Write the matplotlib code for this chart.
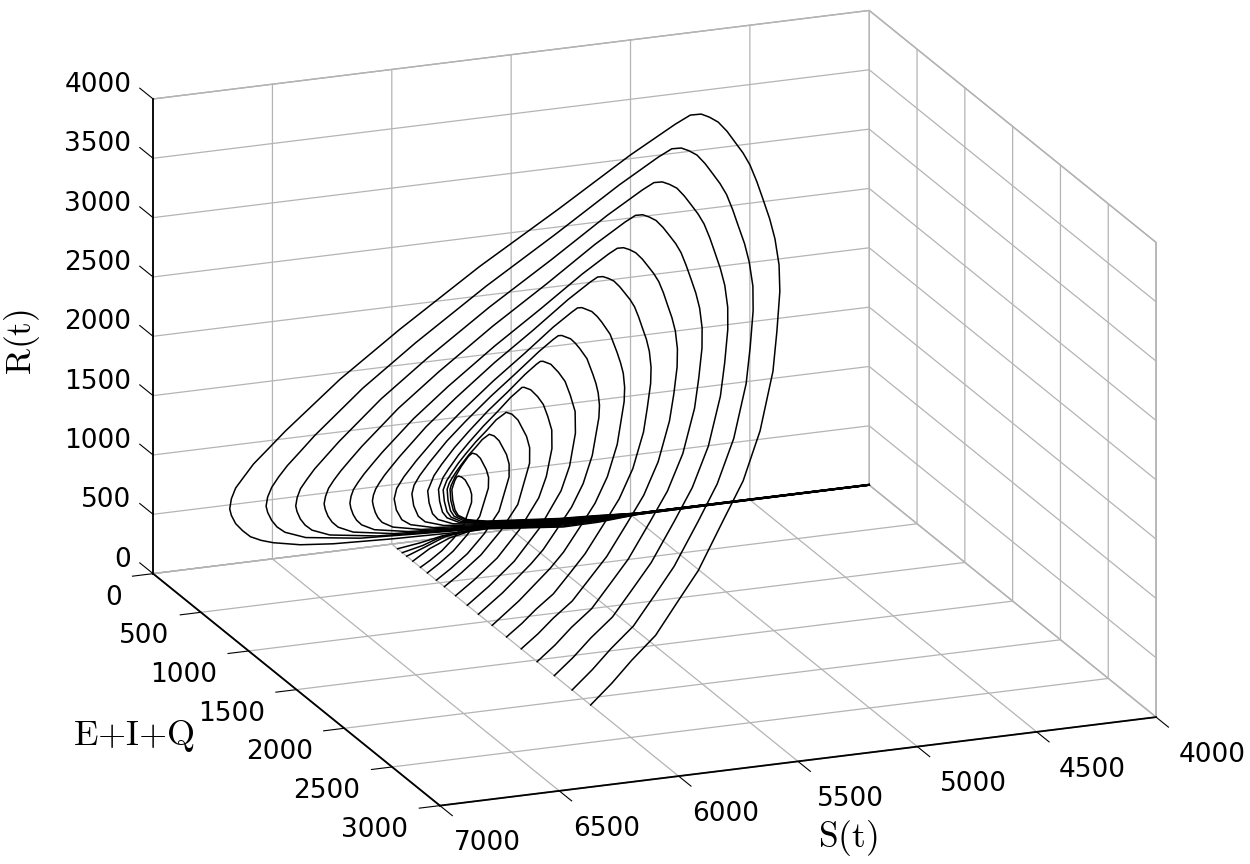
import matplotlib
matplotlib.use("Agg")
import matplotlib.pyplot as plt
from matplotlib.transforms import ScaledTranslation

# tick values
s_ticks = [4000, 4500, 5000, 5500, 6000, 6500, 7000]
e_ticks = [0, 500, 1000, 1500, 2000, 2500, 3000]
r_ticks = [0, 500, 1000, 1500, 2000, 2500, 3000, 3500, 4000]

# the shared run along the S axis at the end of every trajectory
S_tail = [5600, 5300, 5150, 4975, 4510, 4000]

# one trajectory per starting value
S0 = [6000, 5895, 5796, 5678, 5548, 5433, 5277, 5145, 5022, 4904, 4845, 4791, 4761, 4745, 4742, 4746, 4750, 4758, 4770, 4787, 4808, 4833, 4857, 4879, 4916, 4970, 5133, 5408, 5717, 6035, 6269, 6482, 6546, 6603, 6640, 6670, 6686, 6691, 6682, 6662, 6631, 6596, 6550, 6498, 6383, 6246, 5996, 5662]
E0 = [2080, 2040, 2000, 1955, 1870, 1790, 1660, 1540, 1410, 1250, 1144, 1040, 957, 874, 811, 750, 697, 645, 603, 560, 530, 500, 468, 437, 416, 395, 333, 270, 210, 170, 130, 90, 75, 60, 52, 40, 35, 30, 25, 20, 15, 10, 7, 5, 0, 0, 0, 0]
R0 = [0, 132, 274, 425, 632, 803, 1100, 1324, 1630, 1998, 2251, 2506, 2668, 2831, 2958, 3087, 3198, 3307, 3383, 3452, 3528, 3592, 3619, 3630, 3617, 3541, 3282, 2855, 2405, 1929, 1541, 1131, 991, 865, 761, 666, 576, 488, 428, 350, 280, 217, 173, 139, 90, 64, 44, 28]
TR0 = [30, 0, 0, 0, 0, 0]
TE0 = [0, 45, 40, 8, 2, 0]

S1 = [6000, 5901, 5808, 5698, 5575, 5467, 5320, 5196, 5081, 4969, 4914, 4864, 4835, 4820, 4817, 4821, 4825, 4832, 4844, 4860, 4880, 4903, 4925, 4946, 4978, 5026, 5169, 5411, 5681, 5961, 6167, 6355, 6410, 6460, 6493, 6518, 6533, 6537, 6529, 6511, 6486, 6451, 6362, 6132, 5905]
E1 = [1886, 1848, 1811, 1773, 1697, 1622, 1509, 1396, 1282, 1132, 1037, 943, 868, 792, 736, 679, 632, 585, 547, 509, 481, 453, 424, 396, 377, 358, 302, 245, 189, 151, 113, 81, 68, 57, 47, 38, 32, 26, 23, 19, 13, 9, 4, 0, 0]
R1 = [0, 120, 250, 390, 580, 737, 1010, 1217, 1497, 1834, 2067, 2300, 2450, 2601, 2717, 2834, 2937, 3037, 3107, 3171, 3241, 3301, 3324, 3334, 3323, 3254, 3016, 2627, 2217, 1785, 1429, 1057, 928, 814, 719, 633, 550, 470, 413, 340, 274, 218, 148, 83, 61]
TR1 = [35, 3, 2, 0, 0, 0]
TE1 = [0, 38, 32, 7, 2, 0]

S2 = [6000, 5907, 5820, 5716, 5601, 5499, 5361, 5245, 5137, 5032, 4980, 4933, 4906, 4891, 4889, 4892, 4896, 4903, 4914, 4929, 4948, 4969, 4990, 5010, 5038, 5080, 5206, 5420, 5658, 5905, 6086, 6251, 6300, 6344, 6373, 6396, 6408, 6412, 6405, 6390, 6368, 6338, 6261, 6061, 5864]
E2 = [1700, 1666, 1632, 1598, 1530, 1462, 1360, 1258, 1156, 1020, 935, 850, 782, 714, 663, 612, 570, 527, 493, 459, 434, 408, 383, 357, 340, 323, 272, 221, 170, 136, 102, 73, 61, 51, 43, 34, 29, 24, 20, 17, 12, 9, 3, 0, 0]
R2 = [0, 109, 228, 356, 529, 672, 921, 1109, 1364, 1671, 1884, 2097, 2234, 2370, 2477, 2583, 2677, 2769, 2832, 2890, 2954, 3009, 3030, 3039, 3029, 2966, 2751, 2397, 2025, 1633, 1311, 973, 856, 752, 666, 588, 513, 440, 388, 320, 260, 208, 144, 84, 64]
TR2 = [40, 6, 4, 1, 1, 0]
TE2 = [0, 30, 25, 6, 1, 0]

S3 = [6000, 5913, 5832, 5735, 5628, 5533, 5405, 5296, 5195, 5097, 5049, 5005, 4980, 4966, 4964, 4967, 4971, 4977, 4987, 5001, 5019, 5039, 5059, 5077, 5101, 5138, 5247, 5432, 5638, 5852, 6009, 6152, 6195, 6232, 6258, 6277, 6288, 6292, 6286, 6273, 6254, 6228, 6163, 5993, 5825]
E3 = [1520, 1490, 1459, 1429, 1368, 1307, 1216, 1125, 1034, 912, 836, 760, 699, 638, 593, 547, 509, 471, 441, 410, 388, 365, 342, 319, 304, 289, 243, 198, 152, 122, 91, 65, 55, 46, 38, 30, 26, 21, 18, 15, 11, 8, 3, 0, 0]
R3 = [0, 99, 207, 322, 479, 609, 834, 1005, 1237, 1515, 1707, 1900, 2024, 2148, 2245, 2341, 2426, 2509, 2567, 2619, 2677, 2726, 2746, 2754, 2745, 2689, 2496, 2179, 1846, 1495, 1206, 903, 798, 705, 628, 559, 491, 426, 376, 312, 255, 205, 144, 87, 68]
TR3 = [45, 9, 6, 1, 1, 1]
TE3 = [0, 24, 18, 5, 1, 0]

S4 = [6000, 5919, 5844, 5754, 5655, 5566, 5447, 5346, 5253, 5162, 5117, 5076, 5053, 5040, 5038, 5041, 5044, 5050, 5060, 5073, 5089, 5108, 5126, 5143, 5164, 5195, 5289, 5447, 5623, 5807, 5941, 6063, 6100, 6132, 6154, 6171, 6180, 6183, 6178, 6167, 6151, 6129, 6074, 5931, 5790]
E4 = [1354, 1327, 1300, 1273, 1219, 1164, 1083, 1002, 921, 812, 745, 677, 623, 569, 528, 487, 454, 420, 393, 366, 345, 325, 305, 284, 271, 257, 217, 176, 135, 108, 81, 58, 49, 41, 34, 27, 23, 19, 16, 14, 9, 7, 3, 0, 0]
R4 = [0, 89, 185, 289, 430, 546, 748, 902, 1109, 1359, 1531, 1704, 1815, 1927, 2013, 2100, 2176, 2250, 2302, 2349, 2401, 2445, 2463, 2470, 2462, 2412, 2241, 1960, 1664, 1352, 1096, 828, 735, 652, 584, 522, 462, 404, 358, 298, 245, 199, 142, 89, 71]
TR4 = [50, 12, 8, 2, 2, 1]
TE4 = [0, 18, 12, 4, 0, 0]

S5 = [6000, 5926, 5857, 5775, 5684, 5604, 5495, 5403, 5317, 5234, 5194, 5156, 5135, 5123, 5121, 5124, 5127, 5132, 5141, 5153, 5168, 5185, 5201, 5217, 5234, 5260, 5339, 5471, 5619, 5772, 5885, 5987, 6018, 6045, 6063, 6077, 6085, 6088, 6083, 6074, 6061, 6043, 5996, 5877, 5758]
E5 = [1200, 1176, 1152, 1128, 1080, 1032, 960, 888, 816, 720, 660, 600, 552, 504, 468, 432, 402, 372, 348, 324, 306, 288, 270, 252, 240, 228, 192, 156, 120, 96, 72, 52, 43, 36, 30, 24, 20, 17, 14, 12, 8, 6, 2, 0, 0]
R5 = [0, 80, 167, 260, 387, 492, 674, 812, 999, 1223, 1379, 1535, 1635, 1735, 1813, 1890, 1959, 2026, 2073, 2115, 2162, 2202, 2217, 2224, 2217, 2173, 2021, 1772, 1511, 1235, 1008, 771, 688, 615, 555, 500, 447, 396, 352, 294, 243, 198, 144, 93, 75]
TR5 = [55, 15, 10, 2, 2, 2]
TE5 = [0, 12, 6, 2, 0, 0]

S6 = [6000, 5871, 5715, 5642, 5543, 5460, 5383, 5308, 5237, 5218, 5207, 5206, 5208, 5216, 5234, 5247, 5263, 5292, 5306, 5327, 5391, 5498, 5617, 5741, 5832, 5915, 5962, 5988, 5996, 5985, 5960, 5922, 5825, 5729]
E6 = [1050, 1008, 945, 903, 840, 777, 714, 630, 525, 483, 441, 410, 378, 326, 284, 268, 252, 221, 210, 200, 168, 137, 105, 84, 63, 45, 32, 21, 15, 10, 5, 2, 0, 0]
R6 = [0, 147, 341, 433, 594, 716, 880, 1079, 1353, 1441, 1530, 1598, 1667, 1786, 1865, 1906, 1941, 1961, 1955, 1917, 1787, 1573, 1348, 1111, 916, 712, 579, 480, 390, 291, 199, 146, 96, 80]
TR6 = [60, 18, 12, 3, 3, 2]
TE6 = [0, 6, 2, 1, 0, 0]

S7 = [6000, 5884, 5744, 5678, 5590, 5515, 5445, 5378, 5314, 5297, 5288, 5286, 5288, 5295, 5312, 5324, 5338, 5364, 5375, 5392, 5442, 5527, 5621, 5719, 5791, 5857, 5894, 5914, 5921, 5912, 5891, 5861, 5782, 5704]
E7 = [906, 870, 815, 779, 725, 670, 616, 544, 453, 417, 381, 353, 326, 281, 245, 231, 217, 190, 181, 172, 145, 118, 91, 72, 54, 39, 27, 18, 13, 9, 5, 2, 0, 0]
R7 = [0, 129, 300, 381, 522, 629, 774, 948, 1190, 1267, 1345, 1405, 1465, 1571, 1640, 1676, 1707, 1724, 1719, 1687, 1578, 1400, 1212, 1014, 852, 681, 569, 487, 412, 308, 211, 155, 103, 86]
TR7 = [65, 21, 14, 3, 3, 3]
TE7 = [0, 0, 0, 0, 0, 0]

S8 = [6000, 5897, 5772, 5634, 5506, 5445, 5389, 5365, 5366, 5372, 5387, 5410, 5433, 5441, 5454, 5492, 5556, 5628, 5702, 5756, 5806, 5833, 5854, 5847, 5831, 5807, 5744, 5683]
E8 = [790, 758, 711, 632, 537, 474, 395, 332, 284, 245, 213, 190, 166, 158, 150, 126, 103, 79, 63, 47, 34, 24, 11, 8, 4, 2, 0, 0]
R8 = [0, 113, 262, 457, 677, 829, 1041, 1176, 1282, 1374, 1434, 1493, 1508, 1504, 1478, 1387, 1239, 1084, 919, 784, 643, 551, 420, 315, 217, 161, 108, 91]
TR8 = [70, 24, 16, 4, 4, 3]
TE8 = [0, 0, 0, 0, 0, 0]

S9 = [6000, 5909, 5799, 5679, 5566, 5513, 5463, 5442, 5443, 5448, 5461, 5482, 5502, 5508, 5545, 5591, 5643, 5697, 5737, 5773, 5793, 5808, 5802, 5789, 5769, 5718, 5668]
E9 = [667, 640, 600, 534, 454, 400, 334, 280, 240, 207, 180, 160, 140, 133, 107, 87, 67, 53, 40, 29, 20, 9, 6, 3, 1, 0, 0]
R9 = [0, 97, 224, 391, 579, 709, 889, 1005, 1096, 1174, 1226, 1276, 1289, 1285, 1193, 1074, 950, 819, 711, 598, 524, 420, 316, 220, 165, 113, 96]
TR9 = [75, 27, 18, 4, 4, 4]
TE9 = [0, 0, 0, 0, 0, 0]

S10 = [6000, 5921, 5825, 5721, 5622, 5533, 5515, 5515, 5531, 5549, 5567, 5598, 5631, 5669, 5708, 5736, 5762, 5777, 5788, 5782, 5770, 5752, 5706, 5661]
E10 = [550, 528, 495, 440, 374, 275, 231, 198, 149, 132, 116, 88, 72, 55, 44, 33, 24, 17, 8, 5, 3, 1, 0, 0]
R10 = [0, 81, 188, 327, 484, 745, 842, 917, 1026, 1068, 1079, 1005, 914, 818, 717, 634, 547, 490, 410, 311, 219, 166, 116, 100]
TR10 = [80, 30, 20, 5, 5, 4]
TE10 = [0, 0, 0, 0, 0, 0]

S11 = [6000, 5933, 5851, 5762, 5678, 5602, 5587, 5587, 5601, 5616, 5631, 5651, 5672, 5696, 5720, 5738, 5755, 5764, 5771, 5766, 5755, 5739, 5697, 5656]
E11 = [466, 447, 419, 373, 317, 233, 196, 168, 126, 112, 98, 75, 61, 47, 37, 28, 20, 14, 7, 4, 2, 1, 0, 0]
R11 = [0, 67, 156, 272, 403, 620, 700, 763, 854, 889, 898, 844, 777, 708, 634, 573, 510, 469, 410, 313, 222, 170, 121, 105]
TR11 = [85, 33, 22, 5, 5, 5]
TE11 = [0, 0, 0, 0, 0, 0]

S12 = [6000, 5944, 5877, 5803, 5733, 5670, 5657, 5658, 5669, 5681, 5694, 5703, 5724, 5743, 5755, 5758, 5754, 5743, 5728, 5690, 5651]
E12 = [372, 357, 335, 298, 253, 186, 156, 134, 100, 89, 78, 60, 37, 22, 11, 5, 3, 2, 1, 0, 0]
R12 = [0, 56, 129, 225, 333, 512, 579, 631, 706, 735, 742, 705, 610, 518, 445, 405, 310, 222, 172, 125, 109]
TR12 = [90, 38, 25, 6, 6, 5]
TE12 = [0, 0, 0, 0, 0, 0]

S13 = [6000, 5954, 5898, 5836, 5779, 5726, 5716, 5716, 5725, 5736, 5746, 5747, 5748, 5749, 5750, 5746, 5736, 5722, 5685, 5649]
E13 = [300, 288, 270, 240, 204, 150, 126, 108, 81, 72, 63, 48, 30, 18, 4, 3, 2, 1, 0, 0]
R13 = [0, 41, 96, 167, 248, 381, 431, 469, 525, 546, 552, 535, 493, 451, 400, 309, 223, 174, 129, 113]
TR13 = [95, 42, 28, 6, 6, 6]
TE13 = [0, 0, 0, 0, 0, 0]

S14 = [6000, 5910, 5806, 5703]
E14 = [220, 170, 120, 70]
R14 = [0, 50, 82, 80]
TR14 = [60, 20, 14, 4, 3, 3]
TE14 = [0, 0, 0, 0, 0, 0]

S15 = [6000, 5910, 5811, 5700]
E15 = [156, 120, 80, 40]
R15 = [0, 30, 66, 63]
TR15 = [50, 17, 12, 3, 3, 2]
TE15 = [0, 0, 0, 0, 0, 0]

S16 = [6000, 5905, 5810, 5700]
E16 = [110, 85, 55, 25]
R16 = [0, 20, 55, 50]
TR16 = [42, 14, 10, 3, 2, 2]
TE16 = [0, 0, 0, 0, 0, 0]

S17 = [6000, 5900, 5800, 5700]
E17 = [60, 45, 30, 15]
R17 = [0, 15, 40, 40]
TR17 = [35, 11, 8, 2, 2, 1]
TE17 = [0, 0, 0, 0, 0, 0]

curves = [(S0, E0, R0, TE0, TR0), (S1, E1, R1, TE1, TR1), (S2, E2, R2, TE2, TR2),
          (S3, E3, R3, TE3, TR3), (S4, E4, R4, TE4, TR4), (S5, E5, R5, TE5, TR5),
          (S6, E6, R6, TE6, TR6), (S7, E7, R7, TE7, TR7), (S8, E8, R8, TE8, TR8),
          (S9, E9, R9, TE9, TR9), (S10, E10, R10, TE10, TR10), (S11, E11, R11, TE11, TR11),
          (S12, E12, R12, TE12, TR12), (S13, E13, R13, TE13, TR13), (S14, E14, R14, TE14, TR14),
          (S15, E15, R15, TE15, TR15), (S16, E16, R16, TE16, TR16), (S17, E17, R17, TE17, TR17)]

plt.rcParams['mathtext.fontset'] = 'cm'

fig = plt.figure(figsize=(12.5, 8.64), dpi=100)
ax = fig.add_axes([-13 / 1250, -211.6 / 864, 1300 / 1250, 1300 / 864], projection='3d')
ax.set_proj_type('ortho')
ax.view_init(elev=18.43, azim=68.65)
ax.set_box_aspect((773, 792, 503), zoom=0.903)

for s, e, r, te, tr in curves:
    ax.plot(s + S_tail, e + te, r + tr, color='black', lw=1.1, clip_on=False)

ax.set_xlim(4000, 7000)
ax.set_ylim(0, 3000)
ax.set_zlim(0, 4000)
ax.set_xticks(s_ticks)
ax.set_yticks(e_ticks)
ax.set_zticks(r_ticks)
ax.tick_params(labelsize=19)
ax.xaxis.set_tick_params(pad=9)
ax.yaxis.set_tick_params(pad=15.5)
ax.zaxis.set_tick_params(pad=2.5)


def nudge(label, dx, dy):
    # shift a tick label by some pixels, y up
    # Axis3D resets the label transforms on every get_major_ticks, so block that
    label.set_transform(ax.transData + ScaledTranslation(dx * 0.72 / 72, dy * 0.72 / 72, fig.dpi_scale_trans))
    label.set_transform = lambda tr: None


# S labels drift right of the ticks towards 4000
for t, dx in zip(ax.xaxis.get_ticklabels(), [13, 12, 13, 9, 4, 4, 4]):
    t.set_ha('left')
    nudge(t, dx, 0)
for t in ax.yaxis.get_ticklabels():
    t.set_ha('right')
    t.set_va('baseline')
    nudge(t, 3, -4)
for t in ax.zaxis.get_ticklabels():
    t.set_ha('right')
    t.set_va('baseline')
    nudge(t, 0, 4)

for axis in [ax.xaxis, ax.yaxis, ax.zaxis]:
    axis.set_pane_color((1, 1, 1, 1))
    axis.pane.set_edgecolor('#a8a8a8')
    axis.line.set_color('black')
    axis.line.set_linewidth(1.3)
    axis._axinfo['grid'].update(color='#b4b4b4', linewidth=0.9)

# ticks run along the neighbouring axis, R ticks point towards negative E
ax.xaxis._axinfo['tick'].update(inward_factor=0.54, outward_factor=0.0, color='black')
ax.yaxis._axinfo['tick'].update(inward_factor=0.36, outward_factor=0.0, color='black')
ax.zaxis._axinfo['tick'].update(inward_factor=0.0, outward_factor=0.58, color='black')
ax.zaxis._get_tickdir = lambda pos: 1

fig.text(22 / 1250, 1 - 342 / 864, r'$\mathrm{R(t)}$', rotation=90, fontsize=25.5, ha='center', va='center')
fig.text(134 / 1250, 1 - 736 / 864, r'$\mathrm{E{+}I{+}Q}$', fontsize=26, ha='center', va='center')
fig.text(848 / 1250, 1 - 838 / 864, r'$\mathrm{S(t)}$', fontsize=25.5, ha='center', va='center')

fig.savefig('out.png', dpi=100)
